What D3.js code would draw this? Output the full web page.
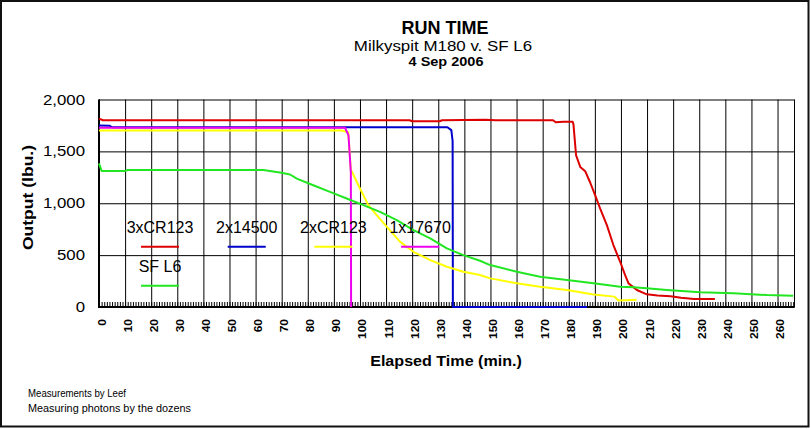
<!DOCTYPE html>
<html><head><meta charset="utf-8">
<script src="https://cdn.jsdelivr.net/npm/d3@7"></script>
<style>
body{margin:0;background:#fff}
svg{display:block}
text{font-family:"Liberation Sans",Arial,Helvetica,sans-serif;fill:#000}
</style>
</head><body>
<svg id="chart" width="811" height="429"></svg>
<script>
// ---------- data ----------
const titleText = "RUN TIME";
const subtitleText = "Milkyspit M180 v. SF L6";
const dateText = "4 Sep 2006";
const xAxisTitle = "Elapsed Time (min.)";
const yAxisTitle = "Output (lbu.)";
const footerLines = ["Measurements by Leef", "Measuring photons by the dozens"];

const seriesNames = ["3xCR123", "2x14500", "2xCR123", "1x17670", "SF L6"];
const seriesColors = ["#dd0000", "#0000cc", "#ffff00", "#ee00ee", "#22e622"];

const xTickValues = [0,10,20,30,40,50,60,70,80,90,100,110,120,130,140,150,160,170,180,190,200,210,220,230,240,250,260];
const yTickValues = [0, 500, 1000, 1500, 2000];

// [minutes, output]
const run3xCR123 = [[0,1815],[1.5,1800],[60,1800],[119,1800],[120,1790],[130.5,1790],[131.5,1800],[148,1805],[152,1800],[174,1800],[175,1780],[178,1785],[181.5,1785],[181.8,1760],[182.8,1463],[184.4,1350],[186.3,1309],[188.2,1200],[190.1,1078],[192,950],[194.6,789],[197.1,597],[199.7,436],[201.6,308],[202.9,228],[206.1,164],[209.9,122],[214,112],[219,104],[223,90],[228,77],[236,77]];
const run2x14500 = [[0,1750],[4,1748],[5,1732],[133.5,1732],[135,1705],[135.5,1600],[135.6,0],[187,0]];
const run2xCR123 = [[0,1702],[93,1702],[95.5,1685],[96.5,1320],[97,1300],[100,1142],[103.2,982],[106.4,885],[110.3,773],[115.4,628],[120.5,532],[126.9,452],[133.3,388],[139.6,340],[146,308],[149.9,276],[160.1,228],[169,195],[179.3,164],[189.5,120],[197.5,100],[199,62],[206,70]];
const run1x17670 = [[0,1728],[94.3,1728],[95.6,1655],[96,1495],[96.5,1300],[96.6,0]];
const runSFL6 = [[0,1385],[1,1312],[10,1312],[11,1321],[63,1321],[68,1302],[69.4,1296],[73.2,1277],[75.8,1238],[82.1,1174],[88.5,1110],[94.9,1046],[101.3,982],[107.7,917],[114.1,837],[120.5,741],[126.9,661],[133.3,565],[139.6,500],[146,446],[149.9,404],[160.1,340],[169,292],[179.3,260],[189.5,228],[199.7,195],[204.8,190],[209.9,180],[217.6,164],[230.4,141],[243.1,132],[255.9,115],[266,109]];

const seriesData = [run3xCR123, run2x14500, run2xCR123, run1x17670, runSFL6];

// ---------- layout ----------
const svg = d3.select("#chart");
const L = 99, R = 794.5, T = 99.5, B = 307;
const x = d3.scaleLinear().domain([0, 266.5]).range([L, R]);
const y = d3.scaleLinear().domain([0, 2000]).range([B, T]);

svg.append("rect").attr("width", 811).attr("height", 429).attr("fill", "#fff");
svg.append("rect").attr("x", 1).attr("y", 1).attr("width", 807.5).attr("height", 425.5)
  .attr("fill", "none").attr("stroke", "#111").attr("stroke-width", 2);

function txt(str, tx, ty, opts) {
  const t = svg.append("text")
    .attr("transform", `translate(${tx},${ty})` + (opts.rot ? ` rotate(${opts.rot})` : "") + ` scale(${opts.sx || 1},1)`)
    .attr("text-anchor", opts.anchor || "middle")
    .style("font-size", opts.size + "px")
    .style("font-weight", opts.bold ? "bold" : "normal")
    .text(str);
  if (opts.len) t.attr("textLength", opts.len).attr("lengthAdjust", "spacingAndGlyphs");
  return t;
}

// titles
txt(titleText, 445, 34, {size: 18, bold: true});
txt(subtitleText, 443, 50.5, {size: 14, sx: 1.21});
txt(dateText, 446, 66, {size: 12.5, bold: true, sx: 1.16});

// grid: vertical
svg.append("g").attr("transform", `translate(0,${B})`)
  .call(d3.axisBottom(x).tickValues(xTickValues).tickSize(-(B - T)).tickFormat(""))
  .call(g => g.select(".domain").remove())
  .call(g => g.selectAll("line").attr("stroke", "#000").attr("stroke-width", 1));
// grid: horizontal
svg.append("g").attr("transform", `translate(${L},0)`)
  .call(d3.axisLeft(y).tickValues(yTickValues).tickSize(-(R - L)).tickFormat(""))
  .call(g => g.select(".domain").remove())
  .call(g => g.selectAll("line").attr("stroke", "#000").attr("stroke-width", 1));
// minor ticks every minute
svg.append("g").attr("transform", `translate(0,${B})`)
  .call(d3.axisBottom(x).tickValues(d3.range(0, 267, 1)).tickSize(-5).tickFormat(""))
  .call(g => g.select(".domain").remove())
  .call(g => g.selectAll("line").attr("stroke", "#000").attr("stroke-width", 1));
// right border
svg.append("line").attr("x1", R).attr("x2", R).attr("y1", T).attr("y2", B).attr("stroke", "#000");
// main axes (thick)
svg.append("line").attr("x1", L).attr("x2", L).attr("y1", T).attr("y2", B + 1).attr("stroke", "#000").attr("stroke-width", 2);
svg.append("line").attr("x1", L - 1).attr("x2", R).attr("y1", B).attr("y2", B).attr("stroke", "#000").attr("stroke-width", 2);

// x tick labels
svg.append("g").attr("transform", `translate(0,${B})`)
  .call(d3.axisBottom(x).tickValues(xTickValues).tickSize(0).tickFormat(d3.format("d")))
  .call(g => g.select(".domain").remove())
  .call(g => g.selectAll("text")
    .attr("y", null).attr("dy", null)
    .attr("transform", "translate(6,12) rotate(-90) scale(1.2,1)")
    .attr("text-anchor", "end")
    .style("font-size", "10px").style("font-weight", "bold")
    .style("font-family", '"Liberation Sans",Arial,sans-serif').attr("fill", "#000"));

// y tick labels
svg.append("g").attr("transform", `translate(${L},0)`)
  .call(d3.axisLeft(y).tickValues(yTickValues).tickSize(0).tickFormat(d3.format(",")))
  .call(g => g.select(".domain").remove())
  .call(g => g.selectAll("text")
    .attr("x", null).attr("dy", null)
    .attr("transform", "translate(-14,4.5) scale(1.2,1)")
    .attr("text-anchor", "end")
    .style("font-size", "14px")
    .style("font-family", '"Liberation Sans",Arial,sans-serif').attr("fill", "#000"));

// axis titles
txt(xAxisTitle, 446, 366, {size: 14, bold: true, sx: 1.15});
txt(yAxisTitle, 33, 197.5, {size: 15, bold: true, sx: 1.17, rot: -90});

// series
const line = d3.line().x(d => x(d[0])).y(d => y(d[1]));
seriesData.forEach((s, i) => {
  svg.append("path").datum(s).attr("d", line)
    .attr("fill", "none").attr("stroke", seriesColors[i])
    .attr("stroke-width", 2).attr("stroke-linejoin", "round");
});

// legend
const legX0 = 160, legStep = 86.7, legRow = 39, legY0 = 233;
seriesNames.forEach((n, i) => {
  const cx = legX0 + (i % 4) * legStep;
  const by = legY0 + Math.floor(i / 4) * legRow;
  txt(n, cx, by, {size: 16});
  svg.append("line").attr("x1", cx - 19).attr("x2", cx + 19)
    .attr("y1", by + 13.7).attr("y2", by + 13.7)
    .attr("stroke", seriesColors[i]).attr("stroke-width", 2);
});

// footer
txt(footerLines[0], 28, 396.7, {size: 10, anchor: "start", len: 98});
txt(footerLines[1], 28, 411.7, {size: 10, anchor: "start", len: 163});
</script>
</body></html>
